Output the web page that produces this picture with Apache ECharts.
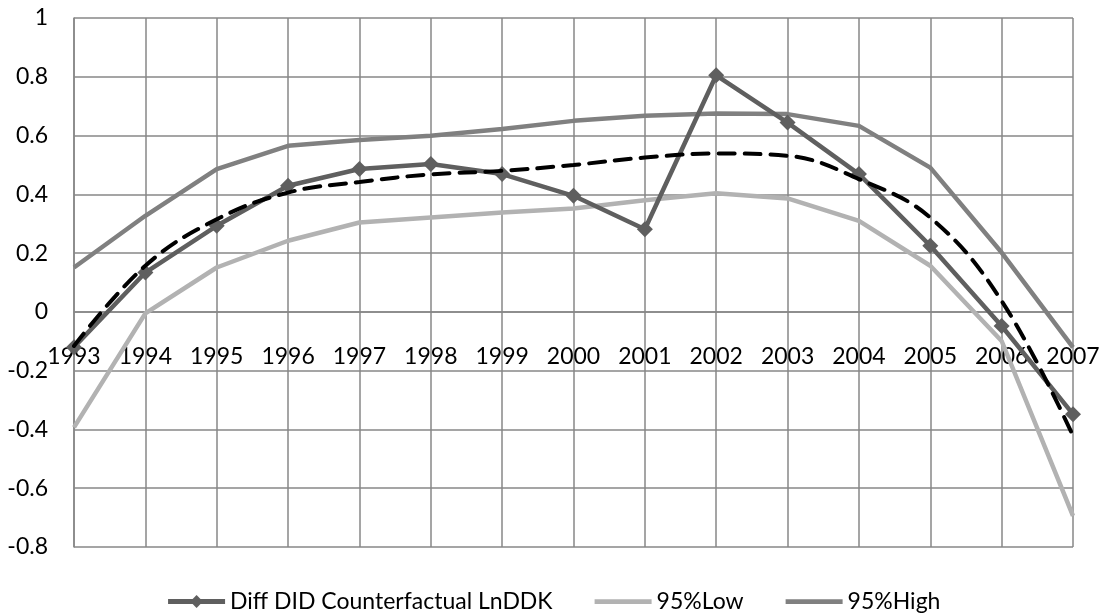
<!DOCTYPE html>
<html>
<head>
<meta charset="utf-8">
<script src="https://cdn.jsdelivr.net/npm/echarts@6/dist/echarts.min.js"></script>
<style>
html,body{margin:0;padding:0;background:#fff;}
#chart{width:1106px;height:616px;}
</style>
</head>
<body>
<div id="chart"></div>
<script>
const years = ['1993','1994','1995','1996','1997','1998','1999','2000','2001','2002','2003','2004','2005','2006','2007'];
const diffDID = [-0.12, 0.134, 0.293, 0.429, 0.486, 0.503, 0.469, 0.395, 0.281, 0.805, 0.644, 0.469, 0.225, -0.048, -0.348];
const low95 = [-0.393, -0.005, 0.151, 0.242, 0.304, 0.321, 0.338, 0.352, 0.380, 0.404, 0.386, 0.310, 0.157, -0.099, -0.694];
const high95 = [0.151, 0.327, 0.486, 0.565, 0.585, 0.599, 0.622, 0.650, 0.667, 0.675, 0.673, 0.633, 0.491, 0.202, -0.121];
const trend = [-0.116, 0.157, 0.315, 0.406, 0.442, 0.468, 0.480, 0.500, 0.525, 0.539, 0.531, 0.452, 0.321, 0.037, -0.422];
const yTicks = {min: -0.8, max: 1, step: 0.2};

const FONT = 'Lato';
const gridColor = '#878787';
const lineIcon = 'path://M0,0 L60,0 L60,5 L0,5 Z';
const chart = echarts.init(document.getElementById('chart'), null, {renderer: 'canvas'});
chart.setOption({
  animation: false,
  backgroundColor: '#ffffff',
  textStyle: {fontFamily: FONT},
  grid: {left: 74, right: 33, top: 18, bottom: 69, containLabel: false},
  legend: {
    bottom: -2,
    left: 'center',
    itemWidth: 57,
    itemHeight: 16,
    itemGap: 42,
    textStyle: {fontFamily: FONT, fontSize: 23, color: '#000'},
    data: [
      {name: 'Diff DID Counterfactual LnDDK', lineStyle: {width: 5, color: '#5f5f5f'}},
      {name: '95%Low', icon: lineIcon},
      {name: '95%High', icon: lineIcon}
    ]
  },
  xAxis: {
    type: 'category',
    data: years,
    boundaryGap: false,
    axisLine: {onZero: false, lineStyle: {color: gridColor, width: 1.5}},
    axisTick: {show: false},
    axisLabel: {fontFamily: FONT, fontSize: 23, color: '#000', margin: 33, interval: 0},
    splitLine: {show: true, lineStyle: {color: gridColor, width: 1.5}}
  },
  yAxis: {
    type: 'value',
    min: yTicks.min,
    max: yTicks.max,
    interval: yTicks.step,
    axisLine: {show: true, lineStyle: {color: gridColor, width: 1.5}},
    axisTick: {show: false},
    axisLabel: {fontFamily: FONT, fontSize: 23, color: '#000', margin: 26,
      formatter: v => String(Math.round(v * 10) / 10)},
    splitLine: {show: true, lineStyle: {color: gridColor, width: 1.5}}
  },
  series: [
    {
      name: 'Diff DID Counterfactual LnDDK', type: 'line', data: diffDID,
      symbol: 'diamond', symbolSize: 16, showSymbol: true,
      itemStyle: {color: '#5f5f5f'},
      lineStyle: {color: '#5f5f5f', width: 4.5}, z: 3
    },
    {
      name: '95%Low', type: 'line', data: low95, symbol: 'none',
      itemStyle: {color: '#b2b2b2'},
      lineStyle: {color: '#b2b2b2', width: 4.5}, z: 2
    },
    {
      name: '95%High', type: 'line', data: high95, symbol: 'none',
      itemStyle: {color: '#808080'},
      lineStyle: {color: '#808080', width: 4.5}, z: 2
    },
    {
      name: 'Trend', type: 'line', data: trend, symbol: 'none', smooth: 0.4,
      lineStyle: {color: '#000000', width: 4, type: [16, 10], cap: 'round'}, z: 4
    }
  ]
});
// place the category axis on the value-axis zero line
const yZero = chart.convertToPixel({yAxisIndex: 0}, 0);
const yBottom = chart.convertToPixel({yAxisIndex: 0}, yTicks.min);
chart.setOption({xAxis: {offset: -(yBottom - yZero)}});
</script>
</body>
</html>
